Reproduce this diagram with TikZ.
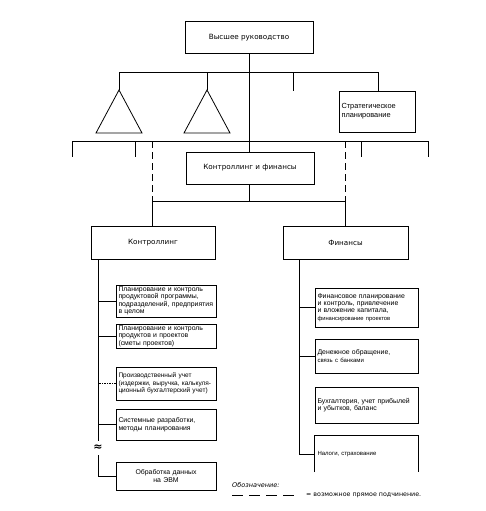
\documentclass[tikz,border=0pt]{standalone}
\usepackage{fontspec}
\setmainfont{DejaVu Sans}
\newfontfamily\narrowf{Liberation Sans}
\begin{document}
\begin{tikzpicture}[x=1pt,y=-1pt,
  box/.style={draw, line width=1pt, inner ysep=0pt, inner xsep=2.5pt, align=left, font=\narrowf\fontsize{6.9}{7.4}\selectfont},
  bigbox/.style={draw, line width=1pt, inner sep=0pt, align=center, font=\fontsize{7.2}{8.5}\selectfont},
  ln/.style={line width=0.8pt},
  dl/.style={line width=0.8pt, dash pattern=on 7pt off 4pt},
]
\useasboundingbox (0,0) rectangle (485,511);
% top
\node[bigbox, minimum width=128pt, minimum height=32pt] (top) at (249,38) {Высшее руководство};
\node[bigbox, minimum width=128pt, minimum height=32pt] (cf) at (250,168) {Контроллинг и финансы};
\node[box, text width=71pt, minimum height=41pt, font=\narrowf\fontsize{7.4}{9}\selectfont] (strat) at (377,111.5) {Стратегическое\\планирование};
\node[bigbox, minimum width=124pt, minimum height=33pt] (ctrl) at (153,242.5) {Контроллинг};
\node[bigbox, minimum width=125pt, minimum height=33pt] (fin) at (345.5,242.5) {Финансы};
% coordinates
\coordinate (h1l) at (119,72);
\coordinate (h1r) at (378,72);
\coordinate (t1) at (119,90);
\coordinate (t2) at (207,90);
\coordinate (h2l) at (72,141);
\coordinate (h2r) at (428,141);
\draw[ln] (top.south) -- (top.south |- cf.north);
\draw[ln] (h1l) -- (h1r);
\draw[ln] (h1l) -- (t1);
\draw[ln] (207,72) -- (t2);
\draw[ln] (293,72) -- (293,91);
\draw[ln] (h1r) -- (strat.north -| h1r);
\draw[ln] (t1) -- ++(-23,43) -- ++(46,0) -- cycle;
\draw[ln] (t2) -- ++(-23,43) -- ++(46,0) -- cycle;
\draw[ln] (h2l) -- (h2r);
\draw[ln] (h2l) -- ++(0,16);
\draw[ln] (135,141) -- ++(0,16);
\draw[ln] (361,141) -- ++(0,16);
\draw[ln] (h2r) -- ++(0,16);
\coordinate (d1) at (152,141);
\coordinate (d2) at (345,141);
\coordinate (h3l) at (152,201);
\coordinate (h3r) at (345,201);
\draw[dl] (d1) -- (h3l);
\draw[dl] (d2) -- (h3r);
\draw[ln] (cf.south -| 249,0) -- (249,201);
\draw[ln] (h3l) -- (h3r);
\draw[ln] (h3l) -- (h3l |- ctrl.north);
\draw[ln] (h3r) -- (h3r |- fin.north);
% left column
\node[box, text width=95pt, minimum height=32pt] (L1) at (166,301) {Планирование и контроль\\продуктовой программы,\\подразделений, предприятия\\в целом};
\node[box, text width=95pt, minimum height=24pt] (L2) at (166,336) {Планирование и контроль\\продуктов и проектов\\(сметы проектов)};
\node[box, text width=95pt, minimum height=33pt, font=\narrowf\fontsize{6.5}{7.4}\selectfont] (L3) at (166,383.5) {Производственный учет\\\mbox{(издержки, выручка, калькуля-}\\\mbox{ционный бухгалтерский учет)}};
\node[box, text width=95pt, minimum height=31pt] (L4) at (166,424.5) {Системные разработки,\\методы планирования};
\node[box, text width=95pt, minimum height=28pt, align=center] (L5) at (166,476) {Обработка данных\\на ЭВМ};
\coordinate (lv) at (98,259);
\node[inner sep=0pt, font=\fontsize{11}{11}\selectfont\bfseries] (approx) at (98,448) {≈};
\draw[ln] (lv) -- (98,441);
\draw[ln] (98,455) -- (98,476) -- (L5.west);
\draw[ln] (L1.west) -- (L1.west -| lv);
\draw[ln] (L2.west) -- (L2.west -| lv);
\draw[line width=0.5pt, dash pattern=on 1.5pt off 1pt] (L3.west) -- (L3.west -| lv);
\draw[ln] (L4.west) -- (L4.west -| lv);
% right column
\node[box, text width=98pt, minimum height=39pt] (R1) at (366.5,307.5) {Финансовое планирование\\и контроль, привлечение\\и вложение капитала,\\{\fontsize{5.8}{6.4}\selectfont финансирование проектов}};
\node[box, text width=98pt, minimum height=34pt] (R2) at (366.5,356) {Денежное обращение,\\{\fontsize{6}{6.8}\selectfont связь с банками}};
\node[box, text width=98pt, minimum height=36pt] (R3) at (366.5,405) {Бухгалтерия, учет прибылей\\и убытков, баланс};
\node[inner ysep=0pt, inner xsep=2.5pt, text width=98pt, minimum height=36pt, align=left, font=\narrowf\fontsize{6}{6.8}\selectfont] (R4) at (366.5,454) {Налоги, страхование};
\draw[line width=1pt] (R4.south west) -- (R4.north west) -- (R4.north east) -- (R4.south east);
\coordinate (rv) at (299,259);
\draw[ln] (rv) -- (299,454) -- (R4.west);
\draw[ln] (R1.west) -- (R1.west -| rv);
\draw[ln] (R2.west) -- (R2.west -| rv);
% legend
\node[anchor=west, inner sep=0pt, font=\fontsize{6.5}{7}\selectfont\itshape] (leg) at (232,485) {Обозначение:};
\coordinate (la) at (232,495);
\coordinate (lb) at (295,495);
\draw[line width=0.9pt, dash pattern=on 11pt off 6pt] (la) -- (lb);
\node[anchor=west, inner sep=0pt, font=\fontsize{6.3}{7}\selectfont] (legt) at (306,495) {= возможное прямое подчинение.};
\end{tikzpicture}
\end{document}
